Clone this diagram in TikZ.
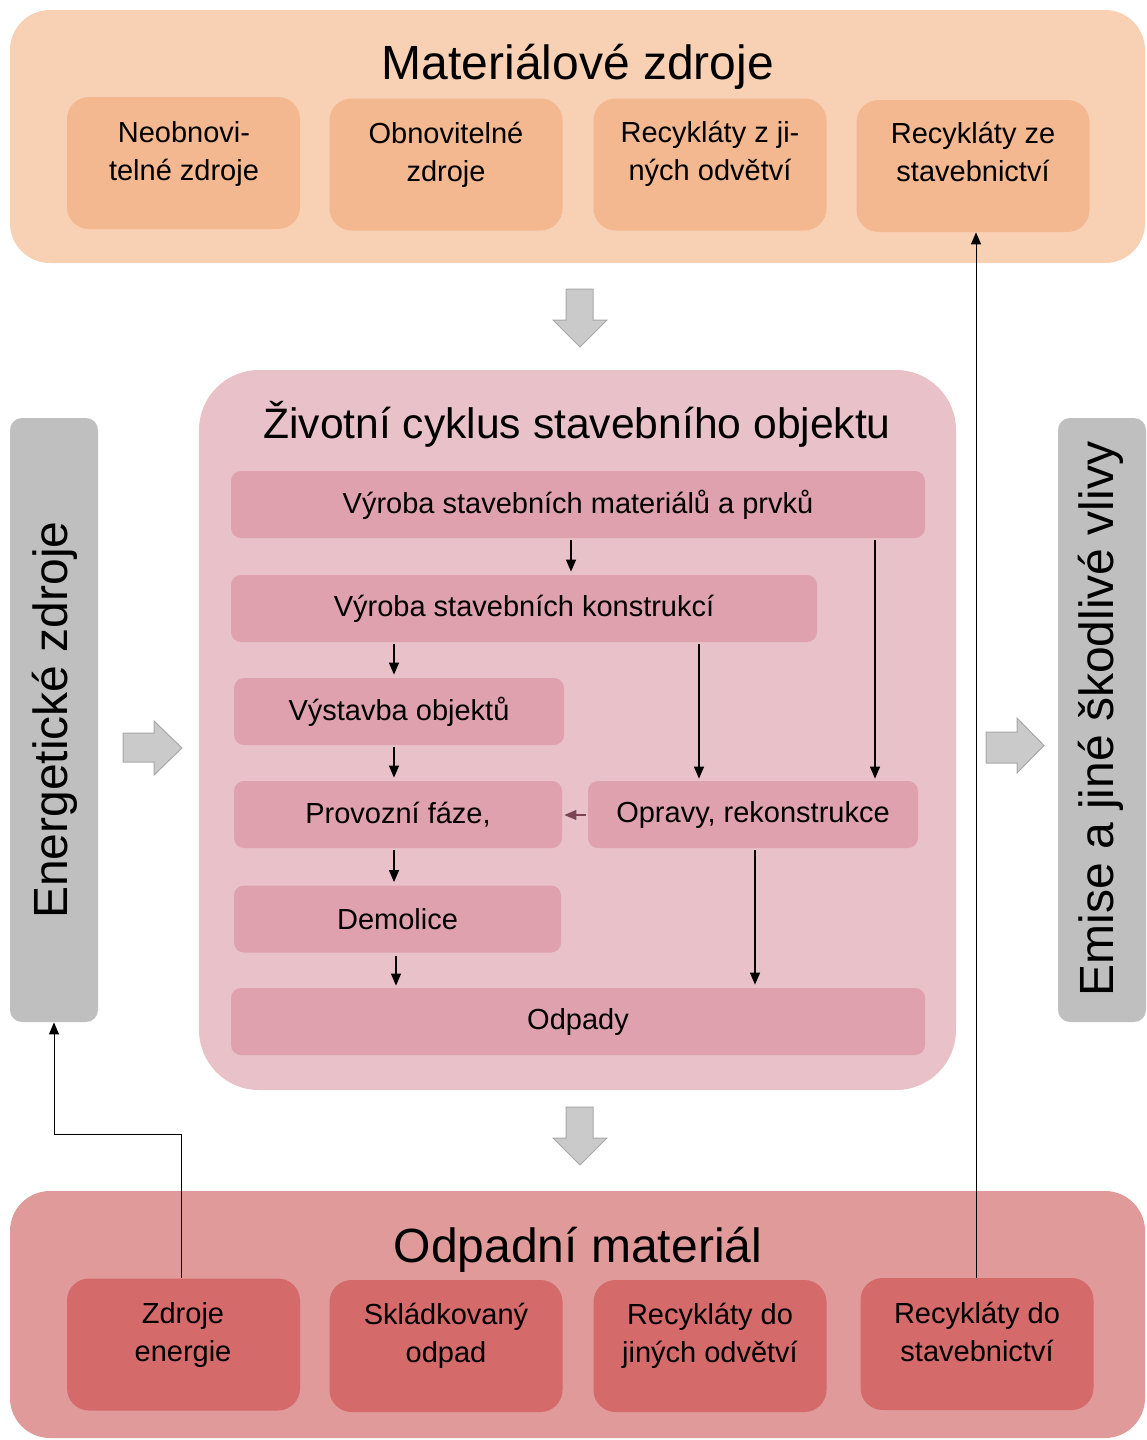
\documentclass[tikz,border=0pt]{standalone}
\usepackage{fontspec}
\setmainfont{Liberation Sans}
\usetikzlibrary{arrows.meta}
\definecolor{toppanel}{HTML}{F8D0B4}
\definecolor{topbox}{HTML}{F4B890}
\definecolor{midpanel}{HTML}{E9C1C9}
\definecolor{midbox}{HTML}{DFA1AD}
\definecolor{botpanel}{HTML}{E09A9A}
\definecolor{botbox}{HTML}{D46A6A}
\definecolor{sidebar}{HTML}{BFBFBF}
\definecolor{arrowgray}{HTML}{CACACA}
\definecolor{arrowedge}{HTML}{A8A8A8}
\definecolor{maroon}{HTML}{7A4453}
\begin{document}
\begin{tikzpicture}[x=0.5pt,y=-0.5pt,
  panel/.style={inner sep=0pt, draw=none},
  tbox/.style={rounded corners=11pt, minimum width=116.5pt, minimum height=66pt, inner sep=0pt},
  btxt/.style={font=\fontsize{14.5}{19}\selectfont, align=center, anchor=base, inner sep=0pt},
  mbox/.style={fill=midbox, rounded corners=5pt, minimum height=33.5pt, inner sep=0pt, font=\fontsize{14.5}{18.5}\selectfont},
  bigtitle/.style={font=\fontsize{24}{28}\selectfont, anchor=base, inner sep=0pt},
  sidetitle/.style={font=\fontsize{24}{28}\selectfont, rotate=90, inner sep=0pt},
  conn/.style={draw=black, line width=0.6pt, -{Triangle[length=6pt,width=5pt]}},
  blockarrow/.style={fill=arrowgray, draw=arrowedge, line width=0.5pt}]
\useasboundingbox (0,0) rectangle (1146,1440);

% panels
\node[panel, fill=toppanel, rounded corners=20pt, minimum width=567.5pt, minimum height=126.5pt] (tp) at (577.5,136.5) {};
\node[panel, fill=midpanel, rounded corners=30pt, minimum width=378.5pt, minimum height=360pt] (mp) at (577.5,730) {};
\node[panel, fill=botpanel, rounded corners=20pt, minimum width=567.5pt, minimum height=123.5pt] (bp) at (577.5,1314.5) {};
\node[panel, fill=sidebar, rounded corners=6pt, minimum width=44pt, minimum height=302pt] (eb) at (54,720) {};
\node[panel, fill=sidebar, rounded corners=6pt, minimum width=44pt, minimum height=302pt] (em) at (1102,720) {};

% titles
\node[bigtitle] (tpt) at (578,79) {Materiálové zdroje};
\node[bigtitle, font=\fontsize{21.3}{26}\selectfont] (mpt) at (577,438) {Životní cyklus stavebního objektu};
\node[bigtitle] (bpt) at (578,1262) {Odpadní materiál};
\node[sidetitle] (ebt) at (55,720) {Energetické zdroje};
\node[sidetitle] (emt) at (1101,719) {Emise a jiné škodlivé vlivy};

% top boxes
\node[tbox, fill=topbox] (t1) at (183.5,163) {};
\node[tbox, fill=topbox] (t2) at (446,164.5) {};
\node[tbox, fill=topbox] (t3) at (710,164.5) {};
\node[tbox, fill=topbox] (t4) at (973,166) {};
\node[btxt] (t1x) at (184,180) {Neobnovi-\\telné zdroje};
\node[btxt] (t2x) at (446,181) {Obnovitelné\\zdroje};
\node[btxt] (t3x) at (710,180) {Recykláty z ji-\\ných odvětví};
\node[btxt] (t4x) at (973,181.5) {Recykláty ze\\stavebnictví};

% bottom boxes
\node[tbox, fill=botbox] (o1) at (183.5,1344.5) {};
\node[tbox, fill=botbox] (o2) at (446,1346) {};
\node[tbox, fill=botbox] (o3) at (710,1346) {};
\node[tbox, fill=botbox] (o4) at (977,1344) {};
\node[btxt] (o1x) at (183,1361) {Zdroje\\energie};
\node[btxt] (o2x) at (446,1362) {Skládkovaný\\odpad};
\node[btxt] (o3x) at (710,1362) {Recykláty do\\jiných odvětví};
\node[btxt] (o4x) at (977,1361) {Recykláty do\\stavebnictví};

% middle boxes
\node[mbox, minimum width=347pt] (m1) at (578,504.5) {Výroba stavebních materiálů a prvků};
\node[mbox, minimum width=293pt] (m2) at (524,608.5) {Výroba stavebních konstrukcí};
\node[mbox, minimum width=165pt] (m3) at (399,711.5) {Výstavba objektů};
\node[mbox, minimum width=164pt] (m4) at (398,814.5) {Provozní fáze,};
\node[mbox, minimum width=165pt] (m5) at (753,814.5) {Opravy, rekonstrukce};
\node[mbox, minimum width=163.5pt] (m6) at (397.5,919) {Demolice};
\node[mbox, minimum width=347pt] (m7) at (578,1021.5) {Odpady};

% block arrows
\draw[blockarrow] (566,289) -- (593,289) -- (593,320) -- (607,320) -- (580,347) -- (553,320) -- (566,320) -- cycle;
\draw[blockarrow] (566,1107) -- (593,1107) -- (593,1138) -- (607,1138) -- (580,1165) -- (553,1138) -- (566,1138) -- cycle;
\draw[blockarrow] (123,733) -- (154,733) -- (154,721) -- (182,748) -- (154,775) -- (154,762) -- (123,762) -- cycle;
\draw[blockarrow] (986,732) -- (1017,732) -- (1017,718) -- (1044,745.5) -- (1017,773) -- (1017,763) -- (986,763) -- cycle;

% x-helpers
\coordinate (xa) at (571,0);
\coordinate (xb) at (875,0);
\coordinate (xc) at (394,0);
\coordinate (xd) at (699,0);
\coordinate (xe) at (755,0);
\coordinate (xf) at (396,0);
\coordinate (ym) at (0,815);

% life-cycle connectors
\draw[conn, shorten <=1pt, shorten >=1.5pt] (m1.south -| xa) -- (m2.north -| xa);
\draw[conn, shorten <=1pt, shorten >=1pt] (m1.south -| xb) -- (m5.north -| xb);
\draw[conn, shorten <=1pt, shorten >=1.5pt] (m2.south -| xc) -- (m3.north -| xc);
\draw[conn, shorten <=1pt, shorten >=1pt] (m2.south -| xd) -- (m5.north -| xd);
\draw[conn, shorten <=1pt, shorten >=1.5pt] (m3.south -| xc) -- (m4.north -| xc);
\draw[conn, draw=maroon, shorten <=1pt, shorten >=1pt] (m5.west |- ym) -- (m4.east |- ym);
\draw[conn, shorten <=1pt, shorten >=1.5pt] (m4.south -| xc) -- (m6.north -| xc);
\draw[conn, shorten <=1pt, shorten >=1.5pt] (m5.south -| xe) -- (m7.north -| xe);
\draw[conn, shorten <=1.5pt, shorten >=1pt] (m6.south -| xf) -- (m7.north -| xf);

% outer connectors
\coordinate (bend) at (54,1134);
\coordinate (xg) at (181,0);
\coordinate (xh) at (976,0);
\draw[conn, line width=0.5pt] (o1.north -| xg) |- (bend) -- (eb.south);
\draw[conn, line width=0.5pt] (o4.north -| xh) -- (t4.south -| xh);
\end{tikzpicture}
\end{document}
